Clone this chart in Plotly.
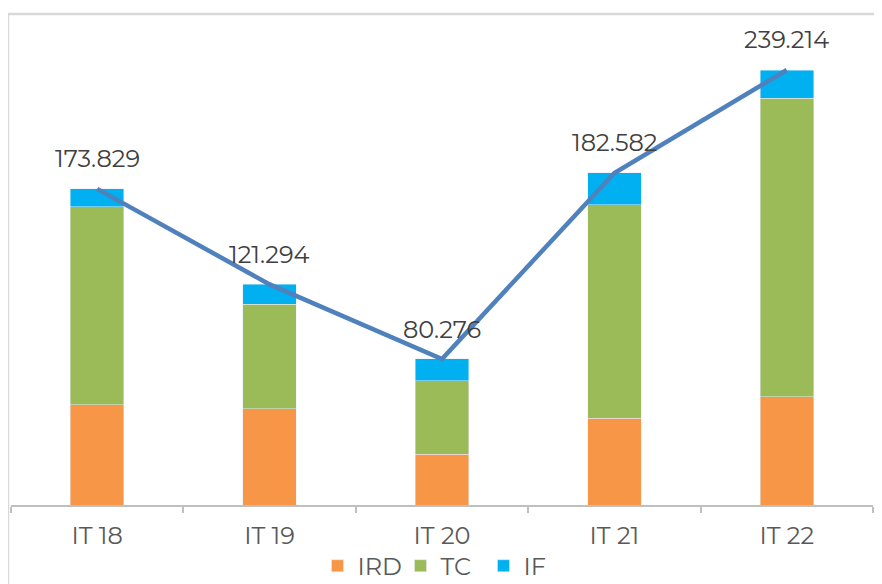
import plotly.graph_objects as go

categories = ["IT 18", "IT 19", "IT 20", "IT 21", "IT 22"]
ird = [55000, 52800, 28000, 47800, 59400]
tc = [108900, 57500, 40200, 117200, 164400]
if_vals = [9900, 11000, 12100, 17600, 15400]
totals = [173829, 121294, 80276, 182582, 239214]

FONT = "Montserrat, Lato, Noto Sans, sans-serif"

fig = go.Figure()
fig.add_trace(go.Bar(name="IRD", x=categories, y=ird, marker_color="#F79646"))
fig.add_trace(go.Bar(name="TC", x=categories, y=tc, marker_color="#9BBB59"))
fig.add_trace(go.Bar(name="IF", x=categories, y=if_vals, marker_color="#00B0F0"))
fig.add_trace(go.Scatter(x=categories, y=totals, mode="lines",
                         line=dict(color="#4F81BD", width=4.5),
                         showlegend=False, hoverinfo="skip"))

# totals labels, italian thousands separator
for c, v in zip(categories, totals):
    fig.add_annotation(x=c, y=v, text=f"{v:,}".replace(",", "."),
                       showarrow=False, yshift=30,
                       font=dict(size=24, color="#404040", family=FONT))

# chart frame (only left and top visible)
fig.add_shape(type="rect", xref="paper", yref="paper",
              x0=-0.0035, x1=1.05, y0=-0.3, y1=1.0124,
              line=dict(color="#d9d9d9", width=2.5), layer="below")

# page body has an 8px margin, so the figure is drawn 8px smaller
fig.update_layout(
    width=874, height=576,
    barmode="stack", bargap=0.69,
    margin=dict(l=3, r=9, t=12, b=79, autoexpand=False),
    plot_bgcolor="white", paper_bgcolor="white",
    font=dict(family=FONT, color="#595959", size=24),
    showlegend=True,
    legend=dict(orientation="h", x=0.5, xanchor="center", y=-0.126, yanchor="middle",
                font=dict(size=24, color="#595959", family=FONT),
                traceorder="normal", itemwidth=30,
                entrywidth=38, entrywidthmode="pixels"),
    xaxis=dict(showline=True, linecolor="#bfbfbf", linewidth=2,
               ticks="outside", tickson="boundaries", ticklen=6,
               tickcolor="#bfbfbf", tickwidth=2, showgrid=False,
               ticklabelstandoff=8, automargin=False,
               tickfont=dict(size=24, color="#595959", family=FONT)),
    yaxis=dict(range=[0, 266700], visible=False, showgrid=False),
)

fig.write_html("out.html")
